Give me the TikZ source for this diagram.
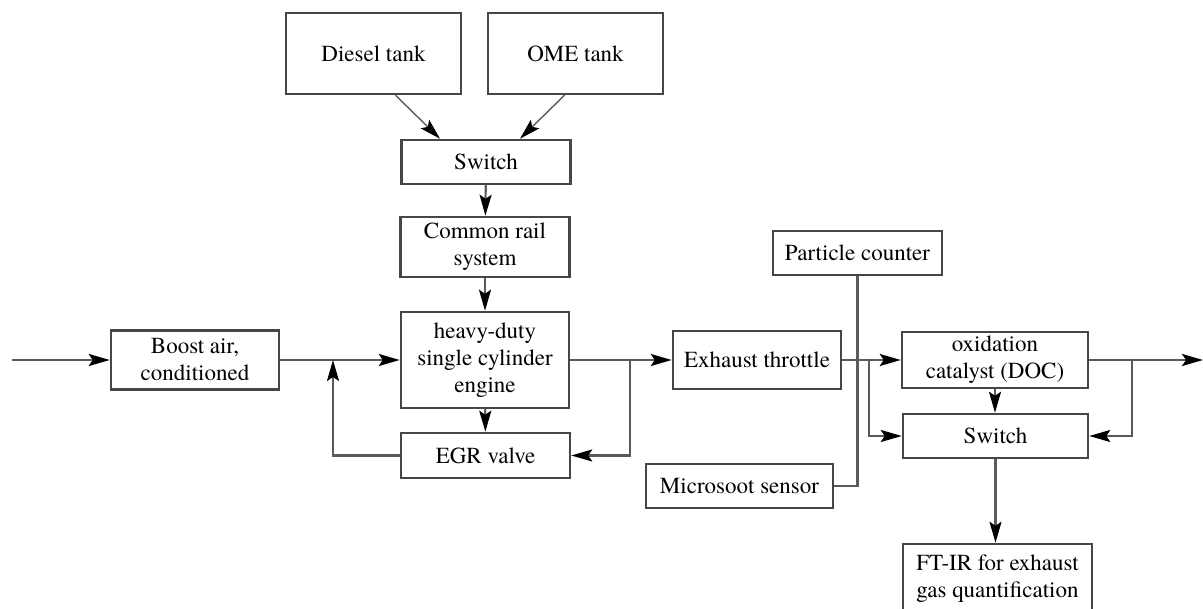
\documentclass[tikz,border=0pt]{standalone}
\usepackage{fontspec}
\setmainfont{texgyretermes-regular.otf}
\usepackage{tikz}
\usetikzlibrary{arrows.meta}
\usetikzlibrary{positioning}

\definecolor{linegray}{RGB}{90,90,90}
\definecolor{boxgray}{RGB}{70,70,70}

\begin{document}
\begin{tikzpicture}[x=1pt,y=-1pt]
				\tikzset{box/.style = {shape=rectangle,draw=boxgray,line width=2.5pt,
						inner sep = 0pt, align=center,
						font=\fontsize{23}{27}\selectfont}}
				\tikzset{edge/.style = {-{Stealth[length=21pt,width=12pt,inset=4pt,black]}, draw=linegray, line width=2.2pt}}
				\tikzset{wire/.style = {draw=linegray, line width=2.2pt}}
				\useasboundingbox (0,0) rectangle (1203,609);
				
				% vertices
				\node[box,minimum width=175pt,minimum height=81pt] (diesel) at (373.5,53.5) {Diesel tank};
				\node[box,minimum width=175pt,minimum height=81pt] (ome) at (575.5,53.5) {OME tank};
				\node[box,minimum width=169pt,minimum height=44pt] (switchA) at (486,162) {Switch};
				\node[box,minimum width=169pt,minimum height=60pt] (rail) at (485,247) {Common rail\\system};
				\node[box,minimum width=168pt,minimum height=96pt] (engine) at (485,360) {heavy-duty\\single cylinder\\engine};
				\node[box,minimum width=169pt,minimum height=45pt] (egr) at (485.5,455.5) {EGR valve};
				\node[box,minimum width=168pt,minimum height=59pt] (boost) at (195,360) {Boost air,\\conditioned};
				\node[box,minimum width=168pt,minimum height=58pt] (throttle) at (757,360) {Exhaust throttle};
				\node[box,minimum width=169pt,minimum height=44pt] (particle) at (857.5,253) {Particle counter};
				\node[box,minimum width=187pt,minimum height=44pt] (micro) at (739.5,486) {Microsoot sensor};
				\node[box,minimum width=186pt,minimum height=56pt] (doc) at (995,360) {oxidation\\catalyst (DOC)};
				\node[box,minimum width=185pt,minimum height=44pt] (switchB) at (995.5,436) {Switch};
				\node[box,minimum width=189pt,minimum height=70pt] (ftir) at (997.5,579) {FT-IR for exhaust\\gas quantification};
				
				\coordinate (in) at (12,360);
				\coordinate (out) at (1203,360);
				\coordinate (egrret) at (333,360);
				\coordinate (egrtap) at (630,360);
				\coordinate (doctap) at (869,360);
				\coordinate (bypass) at (1132,360);
				
				%edges
				\draw[edge, line width=1.4pt] ([xshift=22pt]diesel.south) to ([xshift=-46pt]switchA.north);
				\draw[edge, line width=1.4pt] ([xshift=-11pt]ome.south) to ([xshift=34pt]switchA.north);
				\draw[edge] (switchA) to (rail);
				\draw[edge] (rail) to (engine);
				\draw[edge] (engine) to (egr);
				
				\draw[edge] (in) to (boost);
				\draw[edge] (boost) to (engine);
				\draw[edge] (egr.west) -| (egrret);
				\draw[edge] (engine) to (throttle);
				\draw[edge] (egrtap) |- (egr.east);
				\draw[edge] (throttle) to (doc);
				\draw[edge] (doctap) |- (switchB.west);
				\draw[edge] (doc) to (out);
				\draw[edge] (bypass) |- (switchB.east);
				\draw[edge] (doc.south) to (doc.south |- switchB.north);
				\draw[edge] (switchB.south) to (switchB.south |- ftir.north);
				\draw[wire] (particle.south) |- (micro.east);
				
\end{tikzpicture}
\end{document}
